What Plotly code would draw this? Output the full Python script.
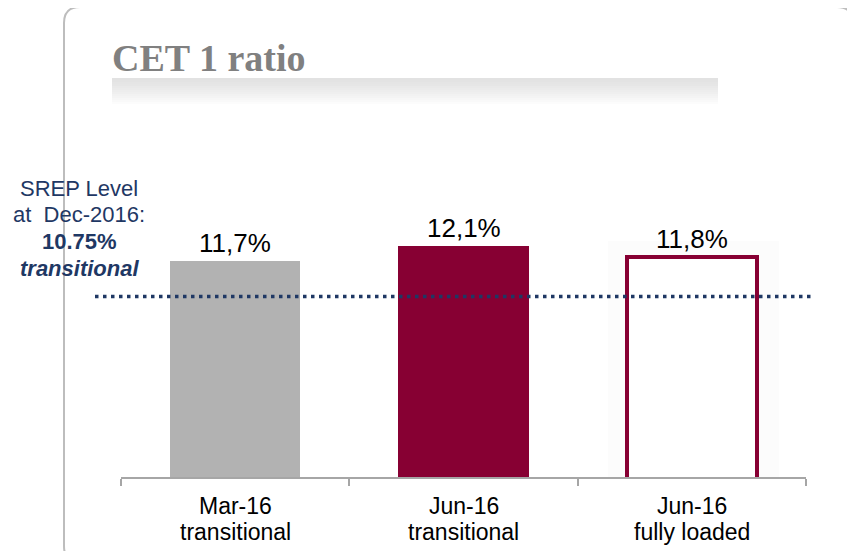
import plotly.graph_objects as go

categories = ["Mar-16<br>transitional", "Jun-16<br>transitional", "Jun-16<br>fully loaded"]
values = [11.7, 12.1, 11.8]
value_labels = ["11,7%", "12,1%", "11,8%"]
srep_level = 10.75
srep_lines = ["SREP Level", "at  Dec-2016:", "<b>10.75%</b>", "<b><i>transitional</i></b>"]

OFF = 8  # page body margin
W, H = 855 - OFF, 551 - OFF
L, R, T, B = 121, 806, 130, 477  # plot area in reference pixels
PW, PH = R - L, B - T


def px(x):
    return (x - L) / PW


def py(y):
    return (B - y) / PH


fill_colors = ["#B2B2B2", "#870033", "#FFFFFF"]
line_colors = ["#B2B2B2", "#870033", "#870033"]
line_widths = [0, 0, 4]

fig = go.Figure()
fig.add_trace(go.Bar(
    x=categories, y=values, width=0.57,
    marker=dict(color=fill_colors, line=dict(color=line_colors, width=line_widths)),
    hoverinfo="skip", showlegend=False,
))

shapes = []
# panel border (rounded rectangle)
x0, x1, y0, y1, r = 64, 853, 7, 562, 16
path = (f"M {px(x0)},{py(y0 + r)} "
        f"Q {px(x0)},{py(y0)} {px(x0 + r)},{py(y0)} "
        f"L {px(x1 - r)},{py(y0)} "
        f"Q {px(x1)},{py(y0)} {px(x1)},{py(y0 + r)} "
        f"L {px(x1)},{py(y1 - r)} "
        f"Q {px(x1)},{py(y1)} {px(x1 - r)},{py(y1)} "
        f"L {px(x0 + r)},{py(y1)} "
        f"Q {px(x0)},{py(y1)} {px(x0)},{py(y1 - r)} Z")
shapes.append(dict(type="path", xref="paper", yref="paper", path=path,
                   line=dict(color="#BDBDBD", width=2), fillcolor="rgba(0,0,0,0)", layer="below"))

# gradient band under title
n = 14
gy0, gy1 = 78, 106
for i in range(n):
    a = gy0 + (gy1 - gy0) * i / n
    b = gy0 + (gy1 - gy0) * (i + 1) / n
    v = int(226 + (255 - 226) * (i / (n - 1)) ** 1.2)
    shapes.append(dict(type="rect", xref="paper", yref="paper",
                       x0=px(112), x1=px(718), y0=py(b), y1=py(a),
                       fillcolor=f"rgb({v},{v},{v})", line=dict(width=0), layer="below"))

# faint shadow area around outlined bar
shapes.append(dict(type="rect", xref="paper", yref="paper",
                   x0=px(608), x1=px(779), y0=py(477), y1=py(241),
                   fillcolor="#FCFCFC", line=dict(width=0), layer="below"))

# SREP dotted line
shapes.append(dict(type="line", xref="paper", yref="y",
                   x0=px(95), x1=px(812), y0=srep_level, y1=srep_level,
                   line=dict(color="#1F3864", width=3.5, dash="3.5px,4.5px")))

annotations = [
    dict(text="CET 1 ratio", xref="paper", yref="paper", x=px(110), y=py(58),
         xanchor="left", yanchor="middle", showarrow=False,
         font=dict(family="Liberation Serif", size=38, color="#808080", weight="bold")),
]
srep_y = [188, 214.7, 241.4, 268]
for t, yy in zip(srep_lines, srep_y):
    annotations.append(dict(text=t, xref="paper", yref="paper", x=px(79), y=py(yy),
                            xanchor="center", yanchor="middle", showarrow=False,
                            font=dict(family="Liberation Sans", size=22, color="#1F3864")))

for c, v, t in zip(categories, values, value_labels):
    annotations.append(dict(text=t, x=c, y=v, xref="x", yref="y", xanchor="center",
                            yanchor="bottom", yshift=1, showarrow=False,
                            font=dict(family="Liberation Sans", size=26, color="#000000")))

# category labels, two lines each
for c in categories:
    for line_txt, yy in zip(c.split("<br>"), [506, 532]):
        annotations.append(dict(text=line_txt, x=c, xref="x", yref="paper", y=py(yy),
                                xanchor="center", yanchor="middle", showarrow=False,
                                font=dict(family="Liberation Sans", size=23, color="#000000")))

fig.update_layout(
    width=W, height=H,
    margin=dict(l=L - OFF, r=W - (R - OFF), t=T - OFF, b=H - (B - OFF), pad=0),
    paper_bgcolor="white", plot_bgcolor="white",
    shapes=shapes, annotations=annotations,
    bargap=0,
    xaxis=dict(type="category", range=[-0.5, 2.5], showline=True, linecolor="#A6A6A6", linewidth=2,
               ticks="outside", tickson="boundaries", ticklen=7, tickcolor="#A6A6A6", tickwidth=2,
               showgrid=False, zeroline=False, showticklabels=False),
    yaxis=dict(range=[5.95, 15.18], visible=False, showgrid=False, zeroline=False),
)

fig.write_html("out.html")
